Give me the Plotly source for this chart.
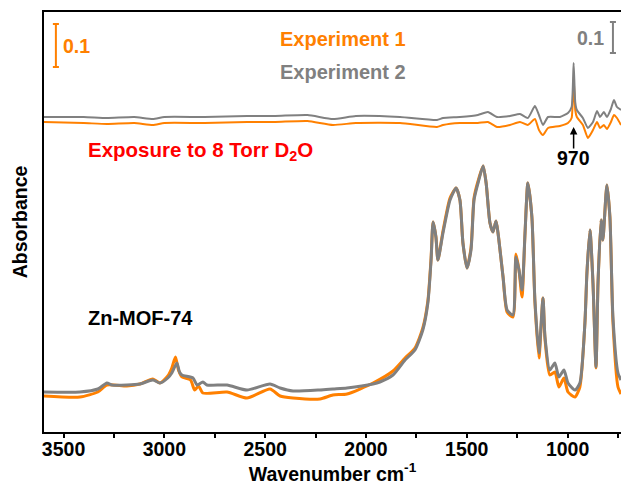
import plotly.graph_objects as go

# ---------------- data (absorbance, arbitrary units; 0.1 abs bar = 43 units) ----------------
# Zn-MOF-74 spectra (lower traces)
wn_gray_low = [3597, 3419, 3330, 3285, 3260, 3186, 3121, 3057, 3022, 2983, 2963, 2938, 2925, 2913,
               2858, 2838, 2809, 2789, 2689, 2590, 2476, 2426, 2362, 2228, 2164, 2094, 1965, 1931,
               1866, 1806, 1757, 1718, 1693, 1677, 1667, 1653, 1643, 1618, 1583, 1553, 1534, 1519,
               1499, 1479, 1464, 1444, 1419, 1404, 1385, 1370, 1355, 1345, 1320, 1300, 1271, 1256,
               1241, 1226, 1211, 1197, 1177, 1162, 1142, 1122, 1112, 1088, 1063, 1043, 1018, 998,
               963, 939, 914, 904, 889, 874, 859, 849, 834, 825, 805, 790, 775, 750, 735]
abs_gray_low = [40, 40, 43, 49, 47, 47, 48, 52, 49, 54, 59, 69, 60, 57,
                54, 47, 50, 47, 47, 42, 48, 44, 41, 42, 43, 44, 48, 50,
                57, 72, 82, 102, 129, 172, 210, 195, 172, 199, 232, 244, 232, 189,
                164, 182, 232, 249, 266, 249, 209, 200, 211, 199, 155, 122, 117, 175,
                162, 142, 199, 249, 215, 132, 79, 134, 95, 62, 69, 55, 62, 49,
                42, 49, 109, 159, 202, 149, 65, 149, 212, 192, 247, 215, 115, 59, 52]

wn_orange_low = [3597, 3419, 3330, 3285, 3186, 3121, 3057, 3022, 2983, 2963, 2945, 2930, 2913, 2870,
                 2850, 2830, 2809, 2689, 2590, 2476, 2426, 2362, 2228, 2164, 2094, 1965, 1866, 1806,
                 1757, 1718, 1693, 1677, 1667, 1653, 1643, 1618, 1583, 1553, 1534, 1519, 1499, 1479,
                 1464, 1444, 1419, 1404, 1385, 1370, 1355, 1345, 1320, 1300, 1271, 1256, 1241, 1226,
                 1211, 1197, 1177, 1162, 1142, 1122, 1112, 1088, 1063, 1043, 1018, 998, 963, 939,
                 914, 904, 889, 874, 859, 849, 834, 825, 805, 790, 775, 750, 735]
abs_orange_low = [36, 35, 40, 47, 46, 48, 53, 49, 56, 64, 75, 62, 55, 52,
                  42, 46, 39, 40, 34, 43, 36, 34, 33, 37, 38, 49, 61, 74,
                  84, 104, 131, 174, 210, 195, 172, 201, 234, 244, 232, 189, 164, 184,
                  234, 251, 266, 249, 209, 200, 211, 199, 155, 120, 115, 178, 162, 135,
                  199, 249, 215, 130, 74, 134, 93, 57, 60, 45, 54, 40, 35, 45,
                  109, 159, 202, 149, 64, 149, 212, 192, 247, 215, 110, 45, 38]

# Difference spectra after exposure to 8 Torr D2O (upper traces, offset)
wn_diff = [3597, 3400, 3285, 3150, 3057, 3000, 2800, 2590, 2450, 2290, 2164, 2050, 1831, 1648,
           1618, 1534, 1445, 1395, 1350, 1286, 1236, 1197, 1162, 1142, 1122, 1097, 1038, 998,
           980, 970, 962, 954, 924, 899, 874, 854, 839, 820, 805, 785, 770, 755, 735]
abs_diff_exp2 = [315, 315, 314, 315, 313, 315, 315, 316, 316, 317, 313, 316, 315, 312,
                 314, 315, 317, 320, 315, 316, 318, 314, 326, 317, 307, 315, 315, 319,
                 325, 369, 330, 322, 314, 304, 310, 321, 315, 320, 315, 323, 332, 325, 322]
abs_diff_exp1 = [310, 309, 308, 309, 307, 309, 309, 310, 310, 311, 307, 309, 309, 305,
                 307, 309, 309, 310, 305, 307, 310, 307, 313, 302, 297, 304, 306, 309,
                 314, 355, 322, 315, 307, 294, 302, 310, 304, 307, 303, 310, 317, 314, 307]

x_tick_vals = [3500, 3000, 2500, 2000, 1500, 1000]
x_tick_text = ["3500", "3000", "2500", "2000", "1500", "1000"]

ORANGE = "#FF8000"
GRAY = "#808080"
FONT = "Arial, 'Liberation Sans', sans-serif"
FS = 19.5
FS_ANN = 20

fig = go.Figure()
fig.add_trace(go.Scatter(x=wn_orange_low, y=abs_orange_low, mode="lines",
                         line=dict(color=ORANGE, width=3, shape="spline", smoothing=0.6), showlegend=False))
fig.add_trace(go.Scatter(x=wn_gray_low, y=abs_gray_low, mode="lines",
                         line=dict(color=GRAY, width=3, shape="spline", smoothing=0.6), showlegend=False))
fig.add_trace(go.Scatter(x=wn_diff, y=abs_diff_exp1, mode="lines",
                         line=dict(color=ORANGE, width=2, shape="spline", smoothing=0.5), showlegend=False))
fig.add_trace(go.Scatter(x=wn_diff, y=abs_diff_exp2, mode="lines",
                         line=dict(color=GRAY, width=2, shape="spline", smoothing=0.5), showlegend=False))

def txt(x, y, s, color, xanchor="center", size=FS_ANN):
    fig.add_annotation(x=x, y=y, xref="x", yref="y", text="<b>%s</b>" % s, showarrow=False,
                       xanchor=xanchor, yanchor="middle", borderpad=0,
                       font=dict(family=FONT, size=size, color=color))

txt(2114, 393, "Experiment 1", ORANGE)
txt(2114, 360, "Experiment 2", GRAY)
txt(3510, 386, "0.1", ORANGE, "left", FS)
txt(815, 394, "0.1", GRAY, "right", FS)
txt(3385, 281, "Exposure to 8 Torr D<sub>2</sub>O", "#FF0000", "left", 20.5)
txt(970, 274, "970", "black", "center", FS)
txt(3385, 114, "Zn-MOF-74", "black", "left")

# arrow at 970
fig.add_annotation(x=970, y=305, ax=970, ay=282, xref="x", yref="y", axref="x", ayref="y",
                   text="", showarrow=True, arrowhead=2, arrowsize=1, arrowwidth=1.5, arrowcolor="black")

# scale bars (0.1 absorbance)
def bar(x, y0, y1, color, half=15):
    fig.add_shape(type="line", x0=x, x1=x, y0=y0, y1=y1, line=dict(color=color, width=2))
    fig.add_shape(type="line", x0=x - half, x1=x + half, y0=y0, y1=y0, line=dict(color=color, width=2))
    fig.add_shape(type="line", x0=x - half, x1=x + half, y0=y1, y1=y1, line=dict(color=color, width=2))

bar(3538, 365, 408, ORANGE)
bar(775, 379, 410, GRAY)

fig.update_layout(
    width=621, height=486,
    margin=dict(l=44, r=0, t=12, b=54),
    plot_bgcolor="white", paper_bgcolor="white",
    font=dict(family=FONT, size=FS, color="black"),
)
fig.update_xaxes(
    range=[3597, 735], showgrid=False, zeroline=False,
    showline=True, linecolor="black", linewidth=2, mirror=True,
    ticks="outside", ticklen=4, tickwidth=1.5, tickcolor="black",
    tickvals=x_tick_vals, ticktext=["<b>%s</b>" % t for t in x_tick_text],
    tickfont=dict(family=FONT, size=FS, color="black"),
    ticklabelstandoff=-5,
    minor=dict(ticks="outside", dtick=250, tick0=0, ticklen=4, tickwidth=1.5, tickcolor="black"),
    title=dict(text="<b>Wavenumber cm<sup>-1</sup></b>", font=dict(family=FONT, size=FS, color="black"),
               standoff=0),
)
fig.update_yaxes(
    range=[0, 420], showgrid=False, zeroline=False,
    showline=True, linecolor="black", linewidth=2, mirror=False,
    ticks="", showticklabels=False,
    title=dict(text="<b>Absorbance</b>", font=dict(family=FONT, size=FS, color="black"), standoff=9),
)

fig.write_html("out.html")
